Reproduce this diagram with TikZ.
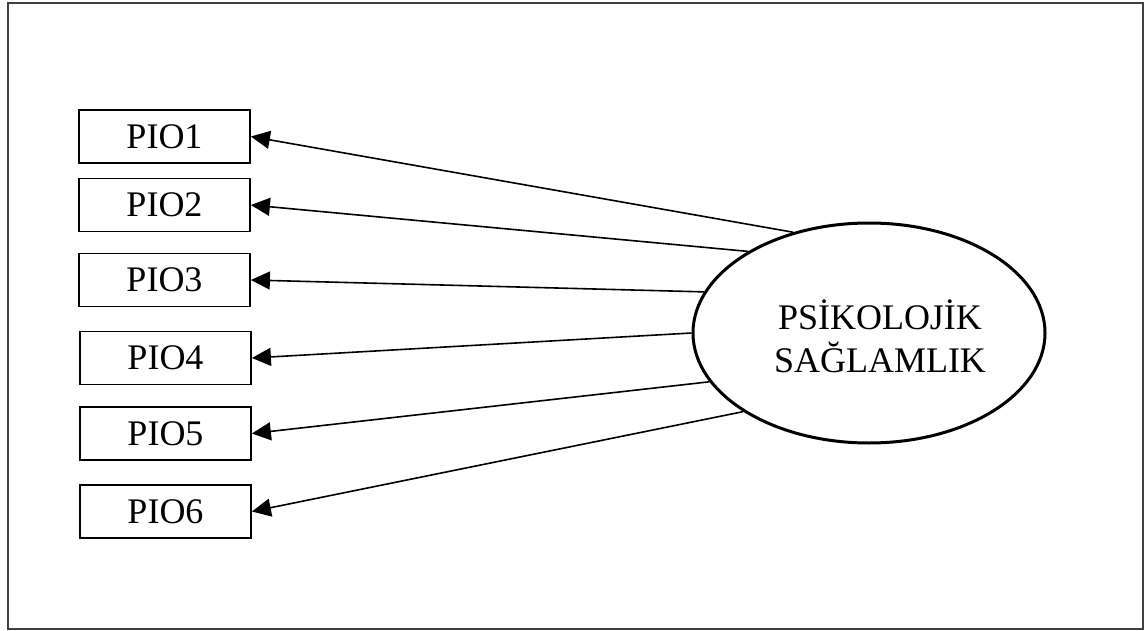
\documentclass[tikz,border=0pt]{standalone}
\usepackage{fontspec}
\setmainfont{Liberation Serif}
\usetikzlibrary{shapes.geometric,arrows.meta}
\begin{document}
\begin{tikzpicture}[x=0.5pt,y=-0.5pt,
  itembox/.style={draw=black,line width=0.9pt,minimum width=85.5pt,minimum height=26.5pt,inner sep=0pt,font=\fontsize{18}{21.5}\selectfont},
  latent/.style={draw=black,ellipse,line width=1.5pt,minimum width=176pt,minimum height=110pt,inner sep=0pt},
  conn/.style={line width=0.8pt,-{Triangle[length=9.5pt,width=9pt]}}]
\useasboundingbox (0,0) rectangle (1146,631);
\draw[line width=1.1pt,draw=black!75] (8,3) rectangle (1143,629);
\node[itembox] (p1) at (164.5,136.5) {PIO1};
\node[itembox] (p2) at (164.5,205) {PIO2};
\node[itembox] (p3) at (164.5,280) {PIO3};
\node[itembox] (p4) at (165.5,358) {PIO4};
\node[itembox] (p5) at (165.5,433.5) {PIO5};
\node[itembox] (p6) at (165.5,511.5) {PIO6};
\node[latent] (E) at (869,333) {};
\node[align=center,inner sep=0pt,font=\fontsize{18}{21.5}\selectfont] (lab) at (880,336) {PSİKOLOJİK\\SAĞLAMLIK};
\draw[conn] (E.127.6) -- (p1.east);
\draw[conn] (E.146.5) -- (p2.east);
\draw[conn] (E.166.7) -- (p3.east);
\draw[conn] (E.180) -- (p4.east);
\draw[conn] (E.197.7) -- (p5.east);
\draw[conn] (E.212.5) -- (p6.east);
\end{tikzpicture}
\end{document}
